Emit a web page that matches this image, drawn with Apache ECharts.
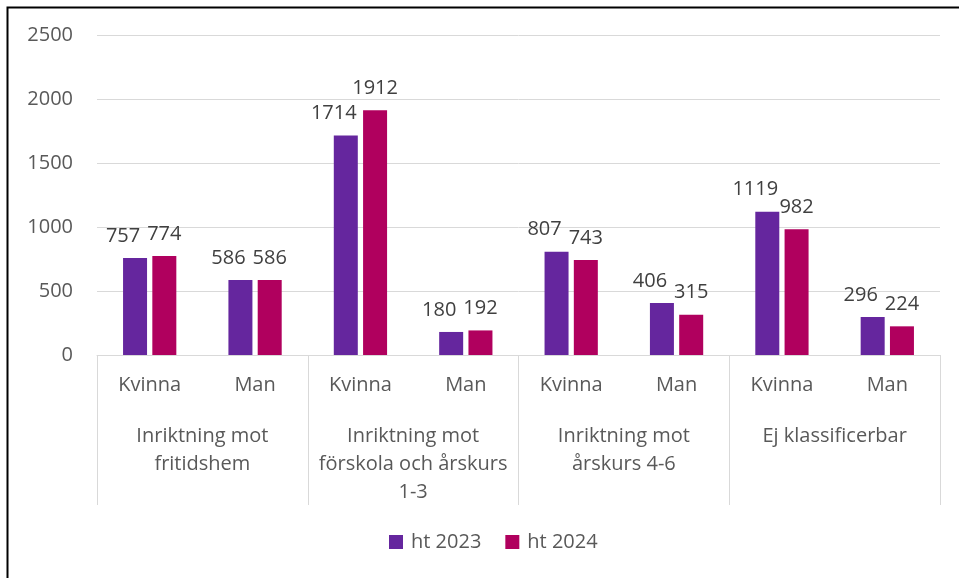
<!DOCTYPE html>
<html>
<head>
<meta charset="utf-8">
<script src="https://cdn.jsdelivr.net/npm/echarts@6/dist/echarts.min.js"></script>
<style>
html,body{margin:0;padding:0;background:#fff}
#main{width:959px;height:578px}
</style>
</head>
<body>
<div id="main"></div>
<script>
var categories = ['Kvinna', 'Man', 'Kvinna', 'Man', 'Kvinna', 'Man', 'Kvinna', 'Man'];
var groups = ['Inriktning mot\nfritidshem', 'Inriktning mot\nförskola och årskurs\n1-3', 'Inriktning mot\nårskurs 4-6', 'Ej klassificerbar'];
var ht2023 = [757, 586, 1714, 180, 807, 406, 1119, 296];
var ht2024 = [774, 586, 1912, 192, 743, 315, 982, 224];
var yTicks = [0, 500, 1000, 1500, 2000, 2500];

var textColor = '#595959';
var font = '"Open Sans"';

function barLabel(dx) {
  return {
    show: true,
    position: 'top',
    distance: 12,
    offset: [dx, 0],
    color: '#404040',
    fontSize: 20,
    fontFamily: font
  };
}

var chart = echarts.init(document.getElementById('main'));
var option = {
  animation: false,
  textStyle: {fontFamily: font},
  grid: {left: 97, right: 19, top: 35, bottom: 223},
  legend: {
    bottom: 21,
    left: 384,
    itemWidth: 14,
    itemHeight: 14,
    itemGap: 24,
    icon: 'rect',
    textStyle: {color: textColor, fontSize: 20, fontFamily: font, padding: [0, 0, 0, 3]},
    data: ['ht 2023', 'ht 2024']
  },
  xAxis: [
    {
      type: 'category',
      data: categories,
      axisLine: {lineStyle: {color: '#d9d9d9', width: 1}},
      axisTick: {show: false},
      axisLabel: {color: textColor, fontSize: 20, fontFamily: font, margin: 20, interval: 0}
    },
    {
      type: 'category',
      data: groups,
      position: 'bottom',
      axisLine: {show: false},
      axisTick: {show: true, length: 150, lineStyle: {color: '#d9d9d9', width: 1}},
      axisLabel: {color: textColor, fontSize: 20, fontFamily: font, margin: 67, interval: 0, lineHeight: 28, verticalAlign: 'top'}
    }
  ],
  yAxis: {
    type: 'value',
    min: yTicks[0],
    max: yTicks[yTicks.length - 1],
    interval: 500,
    axisLine: {show: false},
    axisTick: {show: false},
    axisLabel: {
      color: textColor, fontSize: 20, fontFamily: font, margin: 24,
      formatter: function (v) { return String(v); }
    },
    splitLine: {lineStyle: {color: '#d9d9d9', width: 1}}
  },
  series: [
    {
      name: 'ht 2023',
      type: 'bar',
      data: ht2023,
      barWidth: 24,
      barGap: '22%',
      itemStyle: {color: '#65269e'},
      label: barLabel(-12)
    },
    {
      name: 'ht 2024',
      type: 'bar',
      data: ht2024,
      barWidth: 24,
      barGap: '22%',
      itemStyle: {color: '#b0005e'},
      label: barLabel(0)
    }
  ],
  graphic: [
    {
      type: 'rect',
      left: 5,
      top: 5,
      shape: {width: 1000, height: 1000},
      style: {fill: 'none', stroke: '#000', lineWidth: 2},
      silent: true
    }
  ]
};
chart.setOption(option);
</script>
</body>
</html>
